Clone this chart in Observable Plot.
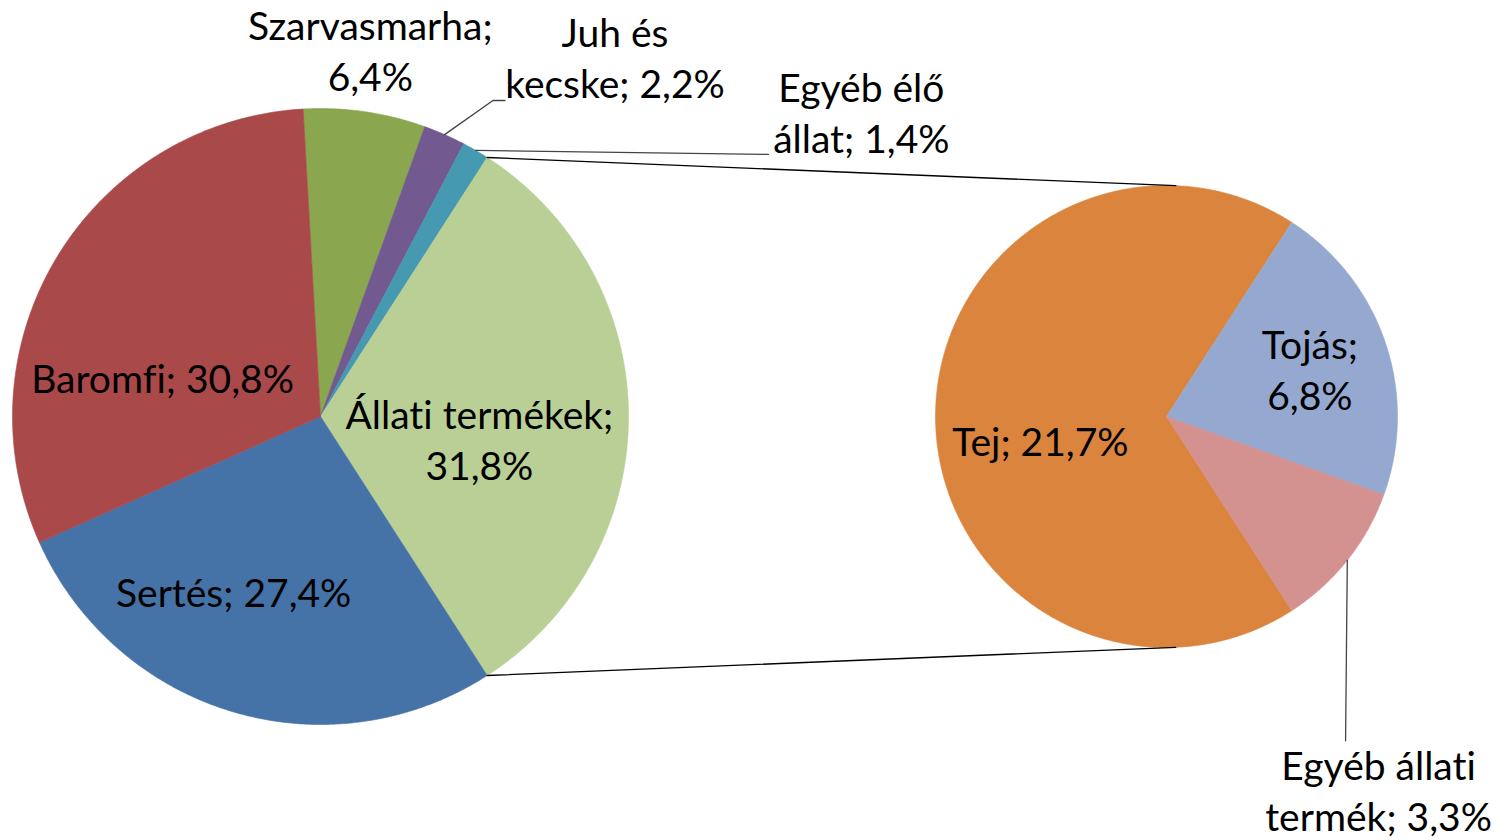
<!DOCTYPE html>
<html>
<head>
<meta charset="utf-8">
<script src="https://cdn.jsdelivr.net/npm/d3@7"></script>
<script src="https://cdn.jsdelivr.net/npm/@observablehq/plot@0.6"></script>
<style>
  html, body { margin: 0; padding: 0; background: #fff; }
  #chart { width: 1500px; height: 840px; }
  #chart text { font-variant-ligatures: none; font-feature-settings: "liga" 0; }
</style>
</head>
<body>
<div id="chart"></div>
<script>
// ---- Data ----
const mainCategories = ["Szarvasmarha", "Juh és kecske", "Egyéb élő állat", "Állati termékek", "Sertés", "Baromfi"];
const mainValues = [6.4, 2.2, 1.4, 31.8, 27.4, 30.8];
const mainLabelTexts = ["Szarvasmarha;\n6,4%", "Juh és\nkecske; 2,2%", "Egyéb élő\nállat; 1,4%", "Állati termékek;\n31,8%", "Sertés; 27,4%", "Baromfi; 30,8%"];
const subCategories = ["Tej", "Tojás", "Egyéb állati termék"];
const subValues = [21.7, 6.8, 3.3];
const subLabelTexts = ["Tej; 21,7%", "Tojás;\n6,8%", "Egyéb állati\ntermék; 3,3%"];
const splitCategory = "Állati termékek";

// ---- Styles / layout ----
const mainColors = ["#8AA64F", "#725990", "#4599B0", "#BACF96", "#4572A7", "#A9494A"];
const subColors = ["#DA843E", "#95A9D0", "#D39190"];
const mainPie = {cx: 320, cy: 416, r: 308};
const subPie = {cx: 1166, cy: 416, r: 231};
// label placement: polar (angle deg clockwise from top, distance px) from pie centre
const mainLabelPolar = [[7.8, 367], [39.6, 462], [60.9, 619], [99.3, 161], [206, 198], [282.8, 162]];
const subLabelPolar = [[257.9, 129], [72.9, 150], [150.6, 432]];
// leader line extra points, offsets from label centre
const mainLeaders = {1: [[-122, 40], [-110, 40]], 2: [[-93, 39]]};
const subLeaders = {2: [[-33, -52]]};
const fontSize = 39;

const rad = d => d * Math.PI / 180;
const polar = (c, angDeg, dist) => [c.cx + dist * Math.sin(rad(angDeg)), c.cy - dist * Math.cos(rad(angDeg))];

// main pie angles: split slice centred at 90°
const mainTotal = d3.sum(mainValues);
const splitIdx = mainCategories.indexOf(splitCategory);
const before = d3.sum(mainValues.slice(0, splitIdx));
const mainStart = 90 - (before + mainValues[splitIdx] / 2) / mainTotal * 360;
const mainSlices = [];
{
  let a = mainStart;
  mainValues.forEach((v, i) => {
    const span = v / mainTotal * 360;
    mainSlices.push({name: mainCategories[i], a0: a, a1: a + span, color: mainColors[i]});
    a += span;
  });
}
// sub pie: first slice centred at 270° (facing main pie)
const subTotal = d3.sum(subValues);
const subStart = 270 - subValues[0] / subTotal * 360 / 2;
const subSlices = [];
{
  let a = subStart;
  subValues.forEach((v, i) => {
    const span = v / subTotal * 360;
    subSlices.push({name: subCategories[i], a0: a, a1: a + span, color: subColors[i]});
    a += span;
  });
}

function slicePoly(c, s) {
  const pts = [{x: c.cx, y: c.cy}];
  const n = Math.max(2, Math.ceil((s.a1 - s.a0) / 0.5));
  for (let k = 0; k <= n; k++) {
    const a = s.a0 + (s.a1 - s.a0) * k / n;
    const [x, y] = polar(c, a, c.r);
    pts.push({x, y});
  }
  pts.push({x: c.cx, y: c.cy});
  return pts;
}

const marks = [];
mainSlices.forEach(s => marks.push(Plot.line(slicePoly(mainPie, s), {x: "x", y: "y", fill: s.color, stroke: s.color, strokeWidth: 0.6, curve: "linear"})));
subSlices.forEach(s => marks.push(Plot.line(slicePoly(subPie, s), {x: "x", y: "y", fill: s.color, stroke: s.color, strokeWidth: 0.6, curve: "linear"})));

// connector lines from split slice edges to top/bottom of secondary pie
const split = mainSlices[splitIdx];
const conn = [
  [polar(mainPie, split.a0, mainPie.r), polar(subPie, 2.3, subPie.r), "top"],
  [polar(mainPie, split.a1, mainPie.r), polar(subPie, 177.7, subPie.r), "bottom"]
].flatMap(([p, q, k]) => [{x: p[0], y: p[1], k}, {x: q[0], y: q[1], k}]);
marks.push(Plot.line(conn, {x: "x", y: "y", z: "k", stroke: "#000", strokeWidth: 1.3}));

// labels
const labelRows = [];
mainSlices.forEach((s, i) => {
  const [x, y] = polar(mainPie, mainLabelPolar[i][0], mainLabelPolar[i][1]);
  labelRows.push({x, y, text: mainLabelTexts[i]});
});
subSlices.forEach((s, i) => {
  const [x, y] = polar(subPie, subLabelPolar[i][0], subLabelPolar[i][1]);
  labelRows.push({x, y, text: subLabelTexts[i]});
});

// leader lines
const leaderRows = [];
function addLeader(c, s, lbl, offs, key) {
  const mid = (s.a0 + s.a1) / 2;
  const [sx, sy] = polar(c, mid, c.r);
  leaderRows.push({x: sx, y: sy, k: key});
  offs.forEach(([dx, dy]) => leaderRows.push({x: lbl.x + dx, y: lbl.y + dy, k: key}));
}
Object.entries(mainLeaders).forEach(([i, offs]) => addLeader(mainPie, mainSlices[+i], labelRows[+i], offs, "m" + i));
Object.entries(subLeaders).forEach(([i, offs]) => addLeader(subPie, subSlices[+i], labelRows[mainSlices.length + +i], offs, "s" + i));
marks.push(Plot.line(leaderRows, {x: "x", y: "y", z: "k", stroke: "#444", strokeWidth: 1.3}));

marks.push(Plot.text(labelRows, {x: "x", y: "y", dy: -4, text: "text", fontSize, lineHeight: 1.31, fill: "#000", textAnchor: "middle", lineAnchor: "middle"}));

const chart = Plot.plot({
  width: 1500,
  height: 840,
  margin: 0,
  style: {fontFamily: "Lato, 'Noto Sans', sans-serif", background: "#fff"},
  x: {domain: [0, 1500], range: [0, 1500], axis: null},
  y: {domain: [0, 840], range: [0, 840], axis: null},
  marks
});
document.getElementById("chart").appendChild(chart);
</script>
</body>
</html>
